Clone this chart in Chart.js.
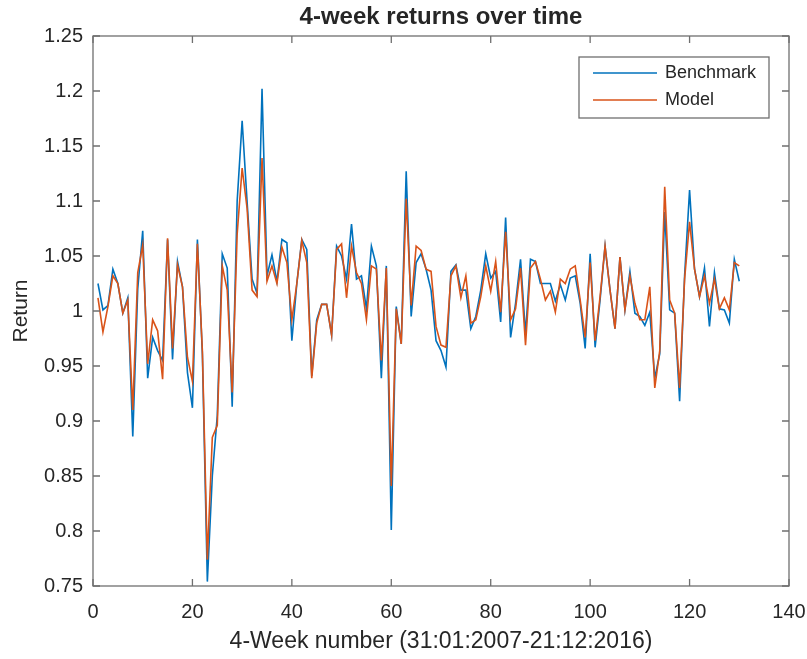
<!DOCTYPE html>
<html>
<head>
<meta charset="utf-8">
<script src="https://cdn.jsdelivr.net/npm/chart.js@4/dist/chart.umd.min.js"></script>
<style>
  body { margin: 0; background: #fff; }
  canvas { display: block; }
</style>
</head>
<body>
<canvas id="returnsChart" width="807" height="659"></canvas>
<script>
// 4-week returns (weeks 1..130)
const benchmark = [
  1.025, 1.001, 1.005, 1.038, 1.025, 0.998, 1.012, 0.886, 1.020, 1.073,
  0.939, 0.976, 0.964, 0.955, 1.065, 0.956, 1.045, 1.022, 0.944, 0.912,
  1.065, 0.961, 0.754, 0.850, 0.905, 1.052, 1.039, 0.913, 1.100, 1.173,
  1.099, 1.029, 1.016, 1.202, 1.032, 1.051, 1.027, 1.065, 1.062, 0.973,
  1.025, 1.065, 1.056, 0.941, 0.992, 1.006, 1.006, 0.978, 1.059, 1.050,
  1.029, 1.079, 1.029, 1.032, 1.002, 1.059, 1.041, 0.939, 1.041, 0.801,
  1.004, 0.970, 1.127, 0.995, 1.044, 1.052, 1.038, 1.019, 0.973, 0.964,
  0.949, 1.036, 1.042, 1.019, 1.019, 0.984, 0.995, 1.019, 1.052, 1.030,
  1.036, 0.990, 1.085, 0.976, 1.007, 1.047, 0.979, 1.047, 1.045, 1.025,
  1.025, 1.025, 1.009, 1.024, 1.010, 1.030, 1.032, 1.007, 0.966, 1.052,
  0.967, 1.010, 1.059, 1.019, 0.984, 1.049, 1.001, 1.036, 0.998, 0.995,
  0.987, 0.999, 0.939, 0.961, 1.090, 1.001, 0.998, 0.918, 1.032, 1.110,
  1.038, 1.013, 1.039, 0.986, 1.035, 1.002, 1.001, 0.989, 1.047, 1.027
];
const model = [
  1.012, 0.981, 1.004, 1.032, 1.025, 0.998, 1.010, 0.910, 1.035, 1.060,
  0.952, 0.992, 0.982, 0.938, 1.066, 0.966, 1.042, 1.022, 0.958, 0.936,
  1.061, 0.964, 0.774, 0.885, 0.896, 1.041, 1.019, 0.926, 1.070, 1.130,
  1.093, 1.019, 1.013, 1.139, 1.027, 1.041, 1.025, 1.058, 1.044, 0.992,
  1.025, 1.064, 1.044, 0.939, 0.989, 1.006, 1.006, 0.978, 1.056, 1.061,
  1.012, 1.059, 1.035, 1.025, 0.992, 1.041, 1.038, 0.955, 1.039, 0.841,
  1.002, 0.970, 1.102, 1.005, 1.059, 1.055, 1.038, 1.036, 0.986, 0.969,
  0.967, 1.032, 1.041, 1.012, 1.032, 0.989, 0.992, 1.013, 1.041, 1.018,
  1.045, 0.999, 1.072, 0.992, 1.002, 1.039, 0.969, 1.039, 1.045, 1.029,
  1.010, 1.018, 0.999, 1.029, 1.025, 1.038, 1.041, 1.010, 0.976, 1.044,
  0.973, 1.013, 1.059, 1.019, 0.984, 1.049, 1.001, 1.032, 1.007, 0.992,
  0.992, 1.022, 0.930, 0.964, 1.113, 1.010, 0.998, 0.930, 1.029, 1.081,
  1.038, 1.013, 1.032, 1.007, 1.029, 1.002, 1.012, 1.001, 1.044, 1.041
];
const seriesNames = ['Benchmark', 'Model'];
const chartTitle = '4-week returns over time';
const xTicks = [0, 20, 40, 60, 80, 100, 120, 140];
const yTicks = [0.75, 0.8, 0.85, 0.9, 0.95, 1, 1.05, 1.1, 1.15, 1.2, 1.25];

const BLUE = '#0072BD';
const ORANGE = '#D95319';
const TEXT = '#262626';
const AXIS = '#6f6f6f';
const FONT = "'Liberation Sans', Arial, Helvetica, sans-serif";

const toPoints = arr => arr.map((v, i) => ({ x: i + 1, y: v }));

// title centred over the axes, not over the whole canvas
const axesTitle = {
  id: 'axesTitle',
  afterDraw(chart) {
    const { ctx, chartArea: a } = chart;
    ctx.save();
    ctx.fillStyle = TEXT;
    ctx.font = 'bold 24px ' + FONT;
    ctx.textAlign = 'center';
    ctx.textBaseline = 'middle';
    ctx.fillText(chartTitle, (a.left + a.right) / 2, 17);
    ctx.restore();
  }
};

// box around the axes with inward tick marks on all four sides
const axesBox = {
  id: 'axesBox',
  afterDraw(chart) {
    const { ctx, chartArea: a, scales } = chart;
    const len = 7;
    ctx.save();
    ctx.strokeStyle = AXIS;
    ctx.lineWidth = 1.3;
    ctx.beginPath();
    xTicks.forEach(v => {
      const px = scales.x.getPixelForValue(v);
      ctx.moveTo(px, a.bottom); ctx.lineTo(px, a.bottom - len);
      ctx.moveTo(px, a.top); ctx.lineTo(px, a.top + len);
    });
    yTicks.forEach(v => {
      const py = scales.y.getPixelForValue(v);
      ctx.moveTo(a.left, py); ctx.lineTo(a.left + len, py);
      ctx.moveTo(a.right, py); ctx.lineTo(a.right - len, py);
    });
    ctx.stroke();
    ctx.strokeRect(a.left, a.top, a.right - a.left, a.bottom - a.top);
    ctx.restore();
  }
};

// legend box in the upper right corner of the axes
const insideLegend = {
  id: 'insideLegend',
  afterDraw(chart) {
    const { ctx, chartArea: a } = chart;
    const w = 190, h = 61;
    const x0 = a.right - 20 - w, y0 = a.top + 21;
    ctx.save();
    ctx.fillStyle = '#fff';
    ctx.fillRect(x0, y0, w, h);
    ctx.strokeStyle = AXIS;
    ctx.lineWidth = 1.3;
    ctx.strokeRect(x0, y0, w, h);
    ctx.font = '18px ' + FONT;
    ctx.textBaseline = 'middle';
    chart.data.datasets.forEach((ds, i) => {
      const y = y0 + 16 + i * 27;
      ctx.strokeStyle = ds.borderColor;
      ctx.lineWidth = 1.5;
      ctx.beginPath();
      ctx.moveTo(x0 + 14, y);
      ctx.lineTo(x0 + 78, y);
      ctx.stroke();
      ctx.fillStyle = TEXT;
      ctx.fillText(ds.label, x0 + 86, y);
    });
    ctx.restore();
  }
};

new Chart(document.getElementById('returnsChart'), {
  type: 'line',
  data: {
    datasets: [
      { label: seriesNames[0], data: toPoints(benchmark), borderColor: BLUE, order: 2 },
      { label: seriesNames[1], data: toPoints(model), borderColor: ORANGE, order: 1 }
    ]
  },
  options: {
    responsive: false,
    animation: false,
    layout: { padding: { left: 0, right: 0, top: 36, bottom: 0 } },
    elements: {
      line: { borderWidth: 1.6, tension: 0 },
      point: { radius: 0 }
    },
    plugins: {
      legend: { display: false },
      tooltip: { enabled: false },
      title: { display: false }
    },
    scales: {
      x: {
        type: 'linear',
        min: 0,
        max: 140,
        afterBuildTicks: s => { s.ticks = xTicks.map(v => ({ value: v })); },
        afterFit: s => { s.height = 73; s.paddingLeft = 0; s.paddingRight = 18; },
        grid: { display: false, drawTicks: false },
        border: { display: false },
        ticks: {
          color: TEXT,
          font: { family: FONT, size: 20 },
          padding: 14,
          maxRotation: 0
        },
        title: {
          display: true,
          text: '4-Week number (31:01:2007-21:12:2016)',
          color: TEXT,
          font: { family: FONT, size: 23 },
          padding: { top: 0, bottom: 4 }
        }
      },
      y: {
        type: 'linear',
        min: 0.75,
        max: 1.25,
        afterBuildTicks: s => { s.ticks = yTicks.map(v => ({ value: v })); },
        afterFit: s => { s.width = 93; },
        grid: { display: false, drawTicks: false },
        border: { display: false },
        ticks: {
          color: TEXT,
          font: { family: FONT, size: 20 },
          padding: 10,
          callback: v => String(+v.toFixed(2))
        },
        title: {
          display: true,
          text: 'Return',
          color: TEXT,
          font: { family: FONT, size: 21 },
          padding: { top: 9, bottom: 0 }
        }
      }
    }
  },
  plugins: [axesBox, insideLegend, axesTitle]
});
</script>
</body>
</html>
